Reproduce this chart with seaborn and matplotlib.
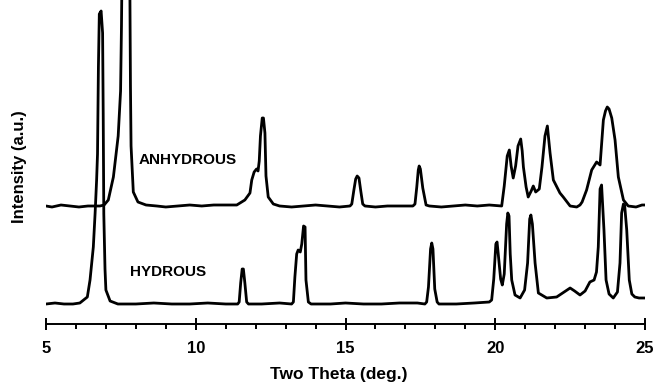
import matplotlib
matplotlib.use("Agg")
import matplotlib.pyplot as plt
from matplotlib.ticker import MultipleLocator
import seaborn as sns
import pandas as pd

# ---- data (two theta in deg., intensity in a.u.) ----
hydrous_theta = [
    5.00, 5.30, 5.60, 5.90, 6.13, 6.38, 6.47, 6.58, 6.64, 6.69, 6.72, 6.75, 6.78,
    6.84, 6.89, 6.91, 6.93, 6.97, 7.00, 7.14, 7.40, 8.00, 8.60, 9.20, 9.80, 10.40,
    11.00, 11.40, 11.45, 11.50, 11.55, 11.59, 11.64, 11.70, 11.76, 12.20, 12.80,
    13.20, 13.26, 13.31, 13.37, 13.42, 13.49, 13.54, 13.60, 13.65, 13.68, 13.76,
    13.85, 14.50, 15.00, 15.60, 16.20, 16.80, 17.40, 17.65, 17.71, 17.77, 17.84,
    17.88, 17.92, 17.98, 18.06, 18.12, 18.70, 19.30, 19.80, 19.88, 19.95, 20.02,
    20.06, 20.10, 20.18, 20.235, 20.30, 20.38, 20.42, 20.46, 20.50, 20.55, 20.66,
    20.83, 20.98, 21.08, 21.15, 21.19, 21.24, 21.33, 21.44, 21.72, 22.05, 22.30,
    22.50, 22.65, 22.83, 23.00, 23.16, 23.30, 23.38, 23.44, 23.50, 23.55, 23.63,
    23.70, 23.80, 23.94, 24.08, 24.165, 24.22, 24.28, 24.32, 24.39, 24.475, 24.56,
    24.66, 24.80, 25.00,
]
hydrous_intensity = [
    0, 1, 0, 0, 1, 7, 24, 57, 91, 124, 150, 237, 290,
    293, 271, 190, 90, 35, 14, 3, 0, 0, 1, 0, 0, 1,
    0, 0, 2, 21, 35, 35, 21, 2, 0, 0, 1,
    0, 2, 27, 50, 54, 52, 60, 78, 77, 24, 2,
    0, 0, 1, 0, 0, 1, 1, 0, 2, 17, 55,
    61, 55, 15, 2, 0, 0, 1, 2, 4, 25, 60,
    62, 50, 25, 19, 30, 80, 91, 88, 50, 24, 9,
    6, 14, 41, 85, 89, 80, 41, 11, 6, 7, 12,
    16, 13, 9, 13, 22, 24, 32, 57, 115, 119, 74,
    24, 10, 6, 12, 41, 91, 100, 99, 74, 24, 10,
    7, 6, 6,
]

anhydrous_theta = [
    5.00, 5.20, 5.50, 5.80, 6.10, 6.40, 6.80, 6.94, 7.08, 7.25, 7.41, 7.49, 7.52,
    7.55, 7.79, 7.82, 7.84, 7.915, 8.07, 8.34, 8.70, 9.00, 9.40, 9.80, 10.20,
    10.60, 11.00, 11.37, 11.64, 11.81, 11.87, 11.95, 12.03, 12.08, 12.12, 12.16,
    12.22, 12.26, 12.31, 12.345, 12.42, 12.59, 12.80, 13.20, 13.60, 14.00, 14.40,
    14.80, 15.15, 15.21, 15.28, 15.34, 15.39, 15.45, 15.51, 15.575, 15.65, 16.00,
    16.40, 16.80, 17.25, 17.32, 17.38, 17.43, 17.46, 17.50, 17.58, 17.69, 17.80,
    18.20, 18.60, 19.00, 19.40, 19.80, 20.215, 20.30, 20.40, 20.47, 20.53, 20.60,
    20.68, 20.76, 20.85, 20.90, 20.94, 21.03, 21.10, 21.20, 21.27, 21.35, 21.47,
    21.56, 21.66, 21.74, 21.83, 21.94, 22.16, 22.27, 22.50, 22.72, 22.83, 22.90,
    23.05, 23.22, 23.385, 23.50, 23.61, 23.68, 23.74, 23.80, 23.89, 24.00, 24.11,
    24.28, 24.44, 24.70, 24.90, 25.00,
]
anhydrous_intensity = [
    0, -1, 1, 0, -1, 0, 0, 1, 6, 29, 70, 115, 180,
    270, 270, 120, 60, 14, 4, 1, 0, -1, 0, 1, 0,
    1, 1, 1, 6, 13, 26, 34, 37, 35, 45, 70,
    88, 88, 73, 30, 9, 2, 0, -1, 0, 1, 0,
    -1, 0, 2, 16, 27, 30, 28, 15, 2, 0, -1,
    0, 0, 0, 2, 19, 36, 40, 37, 18, 1, 0,
    -1, 0, 1, 0, 1, 0, 20, 50, 56, 40, 28,
    40, 60, 67, 55, 39, 19, 9, 15, 20, 14, 17,
    39, 70, 80, 53, 26, 13, 9, 0, -1, 1, 4,
    16, 36, 44, 41, 86, 95, 99, 97, 88, 66, 29,
    6, 0, -1, 1, 1,
]

anhydrous_offset = 98
label_hydrous = "HYDROUS"
label_anhydrous = "ANHYDROUS"
xticks = [5, 10, 15, 20, 25]

# ---- figure ----
sns.set_style("white")
plt.rcParams["font.family"] = ["Liberation Sans", "DejaVu Sans"]
plt.rcParams["font.weight"] = "bold"
plt.rcParams["text.color"] = "black"
plt.rcParams["axes.labelcolor"] = "black"
plt.rcParams["xtick.color"] = "black"

fig = plt.figure(figsize=(6.55, 3.85), dpi=100)
ax = fig.add_axes([46 / 655, 61 / 385, 599 / 655, 324 / 385])

df_h = pd.DataFrame({"theta": hydrous_theta, "I": hydrous_intensity})
df_a = pd.DataFrame({"theta": anhydrous_theta,
                     "I": [v + anhydrous_offset for v in anhydrous_intensity]})

sns.lineplot(data=df_h, x="theta", y="I", ax=ax, color="black", lw=2.0,
             estimator=None, sort=False)
sns.lineplot(data=df_a, x="theta", y="I", ax=ax, color="black", lw=2.0,
             estimator=None, sort=False)

ax.set_xlim(5, 25)
ax.set_ylim(-20, 304)

ax.text(8.105, 144, label_anhydrous, ha="left", va="center",
        fontsize=11, fontweight="bold", color="black")
ax.text(7.805, 32.5, label_hydrous, ha="left", va="center",
        fontsize=11, fontweight="bold", color="black")

for s in ["left", "right", "top"]:
    ax.spines[s].set_visible(False)
ax.spines["bottom"].set_linewidth(1.4)
ax.spines["bottom"].set_color("black")

ax.set_yticks([])
ax.set_xticks(xticks)
ax.set_xticklabels([str(t) for t in xticks])
ax.xaxis.set_minor_locator(MultipleLocator(1))
ax.tick_params(axis="x", which="both", bottom=True, top=False)
ax.tick_params(axis="x", which="major", direction="inout", length=8, width=1.4,
               color="black", labelcolor="black", labelsize=12, pad=8)
ax.tick_params(axis="x", which="minor", direction="out", length=3.5, width=1.4,
               color="black")
for lab in ax.get_xticklabels():
    lab.set_fontweight("bold")

ax.set_xlabel("")
ax.set_ylabel("")
fig.text(339 / 655, 1 - 374.5 / 385, "Two Theta (deg.)", ha="center", va="center",
         fontsize=12.5, fontweight="bold", color="black")
fig.text(19.5 / 655, 1 - 167 / 385, "Intensity (a.u.)", ha="center", va="center",
         rotation=90, fontsize=12, fontweight="bold", color="black")

fig.savefig("out.png", dpi=100)
